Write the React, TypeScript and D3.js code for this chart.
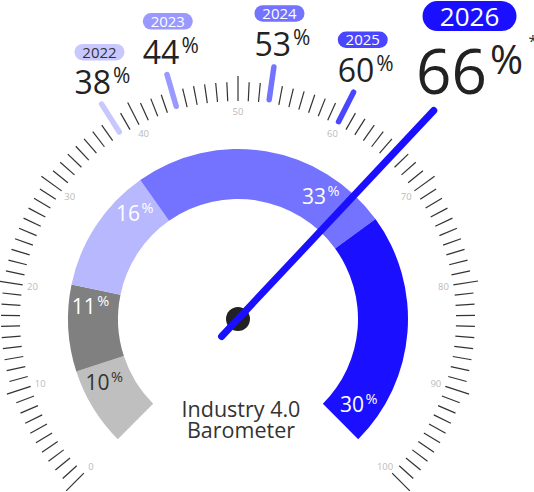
import React from "react";
import * as d3 from "d3";

// ---- data ----
const years = ["2022", "2023", "2024", "2025", "2026"];
const yearValues = [38, 44, 53, 60, 66];
const segmentValues = [10, 11, 16, 33, 30];
const segmentLabels = ["10", "11", "16", "33", "30"];
const tickValues = d3.range(0, 101, 1);
const tickLabelValues = d3.range(0, 101, 10);
const titleLines = ["Industry 4.0", "Barometer"];
const footnoteMark = "*";

// ---- styles ----
const W = 534;
const H = 492;
const cx = 238;
const cy = 319;
const FONT = "'Open Sans', 'DejaVu Sans', sans-serif";
const segmentColors = ["#bfbfbf", "#808080", "#b8b8ff", "#7373ff", "#1a10ff"];
const segmentTextColors = ["#333333", "#ffffff", "#ffffff", "#ffffff", "#ffffff"];
const yearColors = ["#c8c8ff", "#9999ff", "#7373ff", "#4a45ff", "#1a10ff"];
const yearTextColors = ["#333333", "#ffffff", "#ffffff", "#ffffff", "#ffffff"];
// where (in gauge units) each segment label sits
const segLabelAt = [7.3, 18.5, 33.6, 62.6, 96.4];

export default function App() {
  const angle = d3.scaleLinear().domain([0, 100]).range([-135, 135]);
  const rad = (v: number) => (angle(v) * Math.PI) / 180;
  const polar = (v: number, r: number): [number, number] => [
    cx + r * Math.sin(rad(v)),
    cy - r * Math.cos(rad(v)),
  ];

  const pie = d3
    .pie<number>()
    .sort(null)
    .value((d) => d)
    .startAngle(rad(0))
    .endAngle(rad(100));
  const arcs = pie(segmentValues);
  const arcGen = d3.arc<any>().innerRadius(120).outerRadius(170);

  const past = yearValues.slice(0, -1);
  const currentIdx = yearValues.length - 1;
  const currentValue = yearValues[currentIdx];

  const [n0x, n0y] = polar(currentValue, -24);
  const [n1x, n1y] = polar(currentValue, 286);
  const [ax, ay] = polar(currentValue, 290);
  const bigCx = ax + 33;
  const bigBase = ay - 14;

  return (
    <svg
      width={W}
      height={H}
      style={{ position: "absolute", left: 0, top: 0, fontFamily: FONT }}
    >
      <rect width={W} height={H} fill="#ffffff" />
      {/* scale ticks */}
      {tickValues
        .filter((v) => !yearValues.includes(v))
        .map((v) => {
          const major = v % 10 === 0;
          const [x1, y1] = polar(v, 218);
          const [x2, y2] = polar(v, major ? 243 : 237);
          return (
            <line
              key={"t" + v}
              x1={x1}
              y1={y1}
              x2={x2}
              y2={y2}
              stroke="#333"
              strokeWidth={1.2}
            />
          );
        })}
      {tickLabelValues.map((v) => {
        const [x, y] = polar(v, 208);
        return (
          <text
            key={"tl" + v}
            x={x}
            y={y}
            fontSize={9.5}
            fill="#bbbbbb"
            textAnchor="middle"
            dominantBaseline="central"
          >
            {v}
          </text>
        );
      })}
      {/* year highlight bars */}
      {past.map((v, i) => {
        const [x1, y1] = polar(v, 221.5);
        const [x2, y2] = polar(v, 254.5);
        return (
          <line
            key={"h" + v}
            x1={x1}
            y1={y1}
            x2={x2}
            y2={y2}
            stroke={yearColors[i]}
            strokeWidth={5.5}
            strokeLinecap="round"
          />
        );
      })}
      {/* year labels */}
      {past.map((v, i) => {
        const [px, py] = polar(v, 266);
        const gx = px + 7;
        const base = py;
        const pillCx = gx - 3;
        return (
          <g key={"yl" + i}>
            <rect
              x={pillCx - 25}
              y={base - 50.5}
              width={50}
              height={16.5}
              rx={8.25}
              fill={yearColors[i]}
            />
            <text
              x={pillCx}
              y={base - 36.8}
              fontSize={15}
              textAnchor="middle"
              fill={yearTextColors[i]}
            >
              {years[i]}
            </text>
            <text
              x={gx}
              y={base}
              fontSize={32}
              textAnchor="middle"
              fill="#222"
            >
              {v}
              <tspan fontSize={21} dx={2} dy={-11}>
                %
              </tspan>
            </text>
          </g>
        );
      })}
      {/* current year label */}
      <g>
        <rect
          x={bigCx - 47}
          y={bigBase - 92.5}
          width={94}
          height={30}
          rx={15}
          fill={yearColors[currentIdx]}
        />
        <text
          x={bigCx}
          y={bigBase - 68}
          fontSize={26}
          textAnchor="middle"
          fill={yearTextColors[currentIdx]}
        >
          {years[currentIdx]}
        </text>
        <text
          x={bigCx}
          y={bigBase}
          fontSize={62}
          textAnchor="middle"
          fill="#222"
        >
          {currentValue}
          <tspan fontSize={40} dx={3} dy={-20}>
            %
          </tspan>
        </text>
        <text x={bigCx + 59} y={bigBase - 47} fontSize={16} fill="#333">
          {footnoteMark}
        </text>
      </g>
      {/* donut */}
      {arcs.map((a, i) => (
        <path
          key={"s" + i}
          d={arcGen(a) as string}
          transform={`translate(${cx},${cy})`}
          fill={segmentColors[i]}
        />
      ))}
      {arcs.map((a, i) => {
        const [x, y] = polar(segLabelAt[i], 148);
        return (
          <text
            key={"sl" + i}
            x={x}
            y={y + 7.5}
            fontSize={21}
            textAnchor="middle"
            fill={segmentTextColors[i]}
          >
            {segmentLabels[i]}
            <tspan fontSize={14.5} dx={1.5} dy={-7.5}>
              %
            </tspan>
          </text>
        );
      })}
      {/* title */}
      {titleLines.map((t, i) => (
        <text
          key={"ti" + i}
          x={cx + 3}
          y={416.7 + i * 21.6}
          fontSize={21.5}
          textAnchor="middle"
          fill="#333"
        >
          {t}
        </text>
      ))}
      {/* hub + needle */}
      <circle cx={cx} cy={cy} r={12} fill="#222" />
      <line
        x1={n0x}
        y1={n0y}
        x2={n1x}
        y2={n1y}
        stroke={yearColors[currentIdx]}
        strokeWidth={7}
        strokeLinecap="round"
      />
    </svg>
  );
}
